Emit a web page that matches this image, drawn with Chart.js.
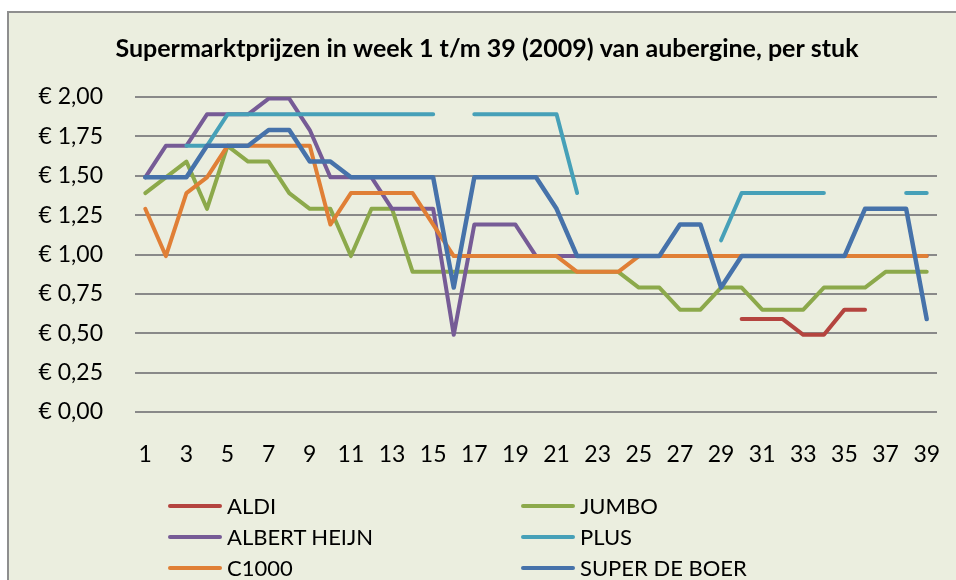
<!DOCTYPE html>
<html>
<head>
<meta charset="utf-8">
<script src="https://cdn.jsdelivr.net/npm/chart.js@4.4.1/dist/chart.umd.min.js"></script>
<style>
  html, body { margin: 0; padding: 0; width: 956px; height: 580px; overflow: hidden; background: #fff; }
  #frame {
    position: absolute; left: 7px; top: 11px; width: 1000px; height: 640px;
    background: #EBEEDF; border: 2px solid #8E8E8E; box-sizing: border-box;
  }
  #chart { position: absolute; left: 0; top: 0; }
  #legend {
    position: absolute; left: 168px; top: 490px;
    display: grid; grid-template-columns: 353px 353px; grid-auto-rows: 31px;
    font-family: Lato, sans-serif; font-size: 22px; color: #000;
  }
  .item { display: flex; align-items: center; }
  .swatch { width: 54px; height: 4px; border-radius: 2px; margin-right: 5px; }
</style>
</head>
<body>
<div id="frame"></div>
<canvas id="chart" width="956" height="580"></canvas>
<div id="legend"></div>

<script>
'use strict';

/* ─── DATA ───────────────────────────────────────────────── */
const weeks = Array.from({ length: 39 }, (_, i) => String(i + 1));

const aldi = [
  null, null, null, null, null, null, null, null, null, null,
  null, null, null, null, null, null, null, null, null, null,
  null, null, null, null, null, null, null, null, null, 0.59,
  0.59, 0.59, 0.49, 0.49, 0.65, 0.65, null, null, null,
];
const jumbo = [
  1.39, 1.49, 1.59, 1.29, 1.69, 1.59, 1.59, 1.39, 1.29, 1.29,
  0.99, 1.29, 1.29, 0.89, 0.89, 0.89, 0.89, 0.89, 0.89, 0.89,
  0.89, 0.89, 0.89, 0.89, 0.79, 0.79, 0.65, 0.65, 0.79, 0.79,
  0.65, 0.65, 0.65, 0.79, 0.79, 0.79, 0.89, 0.89, 0.89,
];
const albertHeijn = [
  1.49, 1.69, 1.69, 1.89, 1.89, 1.89, 1.99, 1.99, 1.79, 1.49,
  1.49, 1.49, 1.29, 1.29, 1.29, 0.49, 1.19, 1.19, 1.19, 0.99,
  0.99, 0.99, 0.99, 0.99, 0.99, 0.99, 0.99, 0.99, 0.99, 0.99,
  0.99, 0.99, 0.99, 0.99, 0.99, 0.99, 0.99, 0.99, 0.99,
];
const plus = [
  null, null, 1.69, 1.69, 1.89, 1.89, 1.89, 1.89, 1.89, 1.89,
  1.89, 1.89, 1.89, 1.89, 1.89, null, 1.89, 1.89, 1.89, 1.89,
  1.89, 1.39, null, null, null, null, null, null, 1.09, 1.39,
  1.39, 1.39, 1.39, 1.39, null, null, null, 1.39, 1.39,
];
const c1000 = [
  1.29, 0.99, 1.39, 1.49, 1.69, 1.69, 1.69, 1.69, 1.69, 1.19,
  1.39, 1.39, 1.39, 1.39, 1.19, 0.99, 0.99, 0.99, 0.99, 0.99,
  0.99, 0.89, 0.89, 0.89, 0.99, 0.99, 0.99, 0.99, 0.99, 0.99,
  0.99, 0.99, 0.99, 0.99, 0.99, 0.99, 0.99, 0.99, 0.99,
];
const superDeBoer = [
  1.49, 1.49, 1.49, 1.69, 1.69, 1.69, 1.79, 1.79, 1.59, 1.59,
  1.49, 1.49, 1.49, 1.49, 1.49, 0.79, 1.49, 1.49, 1.49, 1.49,
  1.29, 0.99, 0.99, 0.99, 0.99, 0.99, 1.19, 1.19, 0.79, 0.99,
  0.99, 0.99, 0.99, 0.99, 0.99, 1.29, 1.29, 1.29, 0.59,
];

const yTicks = [0, 0.25, 0.5, 0.75, 1, 1.25, 1.5, 1.75, 2];

const TITLE = 'Supermarktprijzen in week 1 t/m 39 (2009) van aubergine, per stuk';
const FONT  = 'Lato';

/* legend order (row by row) */
const series = [
  { label: 'ALDI',          data: aldi,        color: '#B4443F' },
  { label: 'JUMBO',         data: jumbo,       color: '#8CA94B' },
  { label: 'ALBERT HEIJN',  data: albertHeijn, color: '#765B96' },
  { label: 'PLUS',          data: plus,        color: '#46A0B8' },
  { label: 'C1000',         data: c1000,       color: '#E07F36' },
  { label: 'SUPER DE BOER', data: superDeBoer, color: '#4672AA' },
];

/* ─── LEGEND ─────────────────────────────────────────────── */
document.getElementById('legend').innerHTML = series.map(s => `
  <div class="item"><span class="swatch" style="background:${s.color}"></span>${s.label}</div>
`).join('');

/* ─── CHART ──────────────────────────────────────────────── */
// Super de Boer on top, then C1000, Plus, Albert Heijn, Jumbo, Aldi
const stacking = ['SUPER DE BOER', 'C1000', 'PLUS', 'ALBERT HEIJN', 'JUMBO', 'ALDI'];

new Chart(document.getElementById('chart').getContext('2d'), {
  type: 'line',
  data: {
    labels: weeks,
    datasets: series.map(s => ({
      label: s.label,
      data: s.data,
      borderColor: s.color,
      backgroundColor: s.color,
      borderWidth: s.label === 'SUPER DE BOER' ? 4.5 : 4,
      borderJoinStyle: 'round',
      borderCapStyle: 'round',
      pointRadius: 0,
      tension: 0,
      spanGaps: false,
      order: stacking.indexOf(s.label),
    })),
  },
  options: {
    responsive: false,
    animation: false,
    layout: { padding: { left: 37, right: 19, top: 0, bottom: 108 } },
    plugins: {
      legend: { display: false },
      tooltip: { enabled: false },
      title: {
        display: true,
        text: TITLE,
        color: '#000',
        font: { family: FONT, size: 25, weight: 'bold', lineHeight: 1.2 },
        padding: { top: 34, bottom: 33 },
      },
    },
    scales: {
      x: {
        offset: true,
        grid: { display: false, drawTicks: true, tickLength: 27 },
        border: { display: false },
        afterFit: axis => { axis.height = 60; },
        ticks: {
          autoSkip: false,
          maxRotation: 0,
          padding: 2,
          color: '#000',
          font: { family: FONT, size: 23, lineHeight: 1.2 },
          callback: (v, i) => (i % 2 === 0 ? weeks[i] : ''),
        },
      },
      y: {
        min: 0,
        max: 2,
        afterFit: axis => { axis.width = 98; },
        afterBuildTicks: axis => { axis.ticks = yTicks.map(v => ({ value: v })); },
        border: { display: false },
        grid: { color: '#898989', lineWidth: 2, drawTicks: false },
        ticks: {
          padding: 32,
          color: '#000',
          font: { family: FONT, size: 23, lineHeight: 1.2 },
          callback: v => '€ ' + v.toFixed(2).replace('.', ','),
        },
      },
    },
  },
});
</script>
</body>
</html>
